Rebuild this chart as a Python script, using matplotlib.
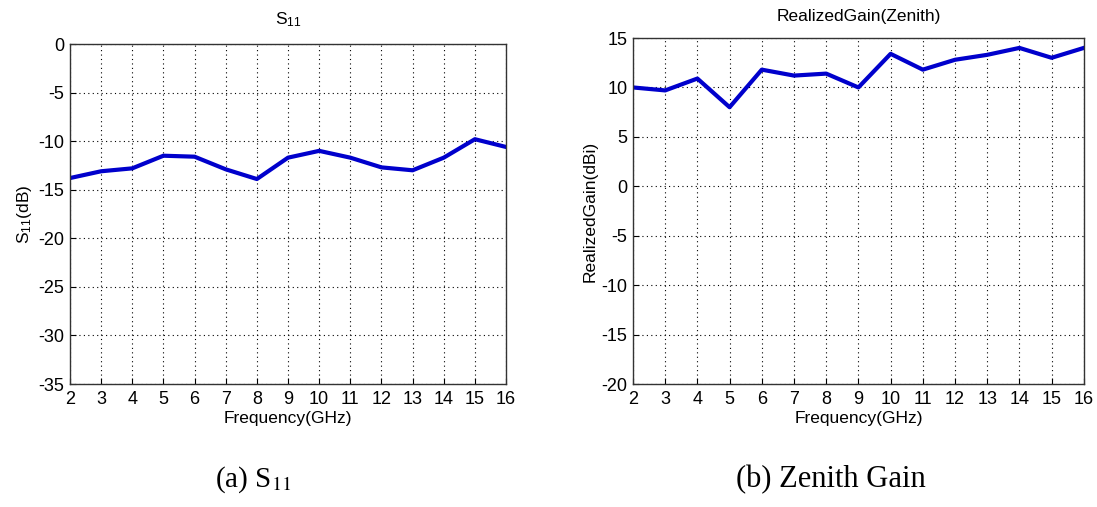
import matplotlib
matplotlib.use('Agg')
import matplotlib.pyplot as plt
import numpy as np

freq = [2, 3, 4, 5, 6, 7, 8, 9, 10, 11, 12, 13, 14, 15, 16]
s11 = [-13.8, -13.1, -12.8, -11.5, -11.6, -12.9, -13.9, -11.7, -11.0,
       -11.7, -12.7, -13.0, -11.7, -9.8, -10.6]
gain = [10.0, 9.7, 10.9, 8.0, 11.8, 11.2, 11.4, 10.0, 13.4, 11.8,
        12.8, 13.3, 14.0, 13.0, 14.0]

plt.rcParams['font.family'] = ['Liberation Sans', 'DejaVu Sans']
plt.rcParams['font.size'] = 12.5
plt.rcParams['axes.unicode_minus'] = False
plt.rcParams['mathtext.fontset'] = 'custom'
plt.rcParams['mathtext.rm'] = 'Liberation Sans'
plt.rcParams['mathtext.it'] = 'Liberation Sans'

fig = plt.figure(figsize=(10.97, 5.07), dpi=100)

def style(ax):
    ax.grid(True, linestyle=(0, (1, 3)), color='black', linewidth=0.8)
    ax.tick_params(direction='in', length=4, labelsize=13)
    ax.tick_params(axis='x', pad=5)
    ax.tick_params(axis='y', pad=4)
    for s in ax.spines.values():
        s.set_color('#333333')
        s.set_linewidth(1.0)
    ax.set_xticks(freq)
    ax.set_xlim(2, 16)

# (a) S11
ax1 = fig.add_axes([0.0638, 0.2426, 0.3975, 0.6706])
ax1.plot(freq, s11, color='#0000cc', linewidth=3)
style(ax1)
ax1.set_ylim(-35, 0)
ax1.set_yticks(np.arange(-35, 1, 5))
ax1.set_title(r'S$\mathrm{_{11}}$', fontsize=12.5, pad=14)
ax1.set_ylabel(r'S$\mathrm{_{11}}$(dB)', fontsize=12.5, labelpad=3)
ax1.set_xlabel('Frequency(GHz)', fontsize=12.5, labelpad=2)

# (b) Zenith gain
ax2 = fig.add_axes([0.577, 0.2426, 0.411, 0.6824])
ax2.plot(freq, gain, color='#0000cc', linewidth=3)
style(ax2)
ax2.set_ylim(-20, 15)
ax2.set_yticks(np.arange(-20, 16, 5))
ax2.set_title('RealizedGain(Zenith)', fontsize=12.5, pad=12)
ax2.set_ylabel('RealizedGain(dBi)', fontsize=12.5, labelpad=3)
ax2.set_xlabel('Frequency(GHz)', fontsize=12.5, labelpad=2)

fig.text(0.2305, 0.04, '(a) S$_{11}$', family='Liberation Serif',
         fontsize=21, ha='center', math_fontfamily='stix')
fig.text(0.757, 0.04, '(b) Zenith Gain', family='Liberation Serif',
         fontsize=22, ha='center')

fig.savefig('out.png', dpi=100)
